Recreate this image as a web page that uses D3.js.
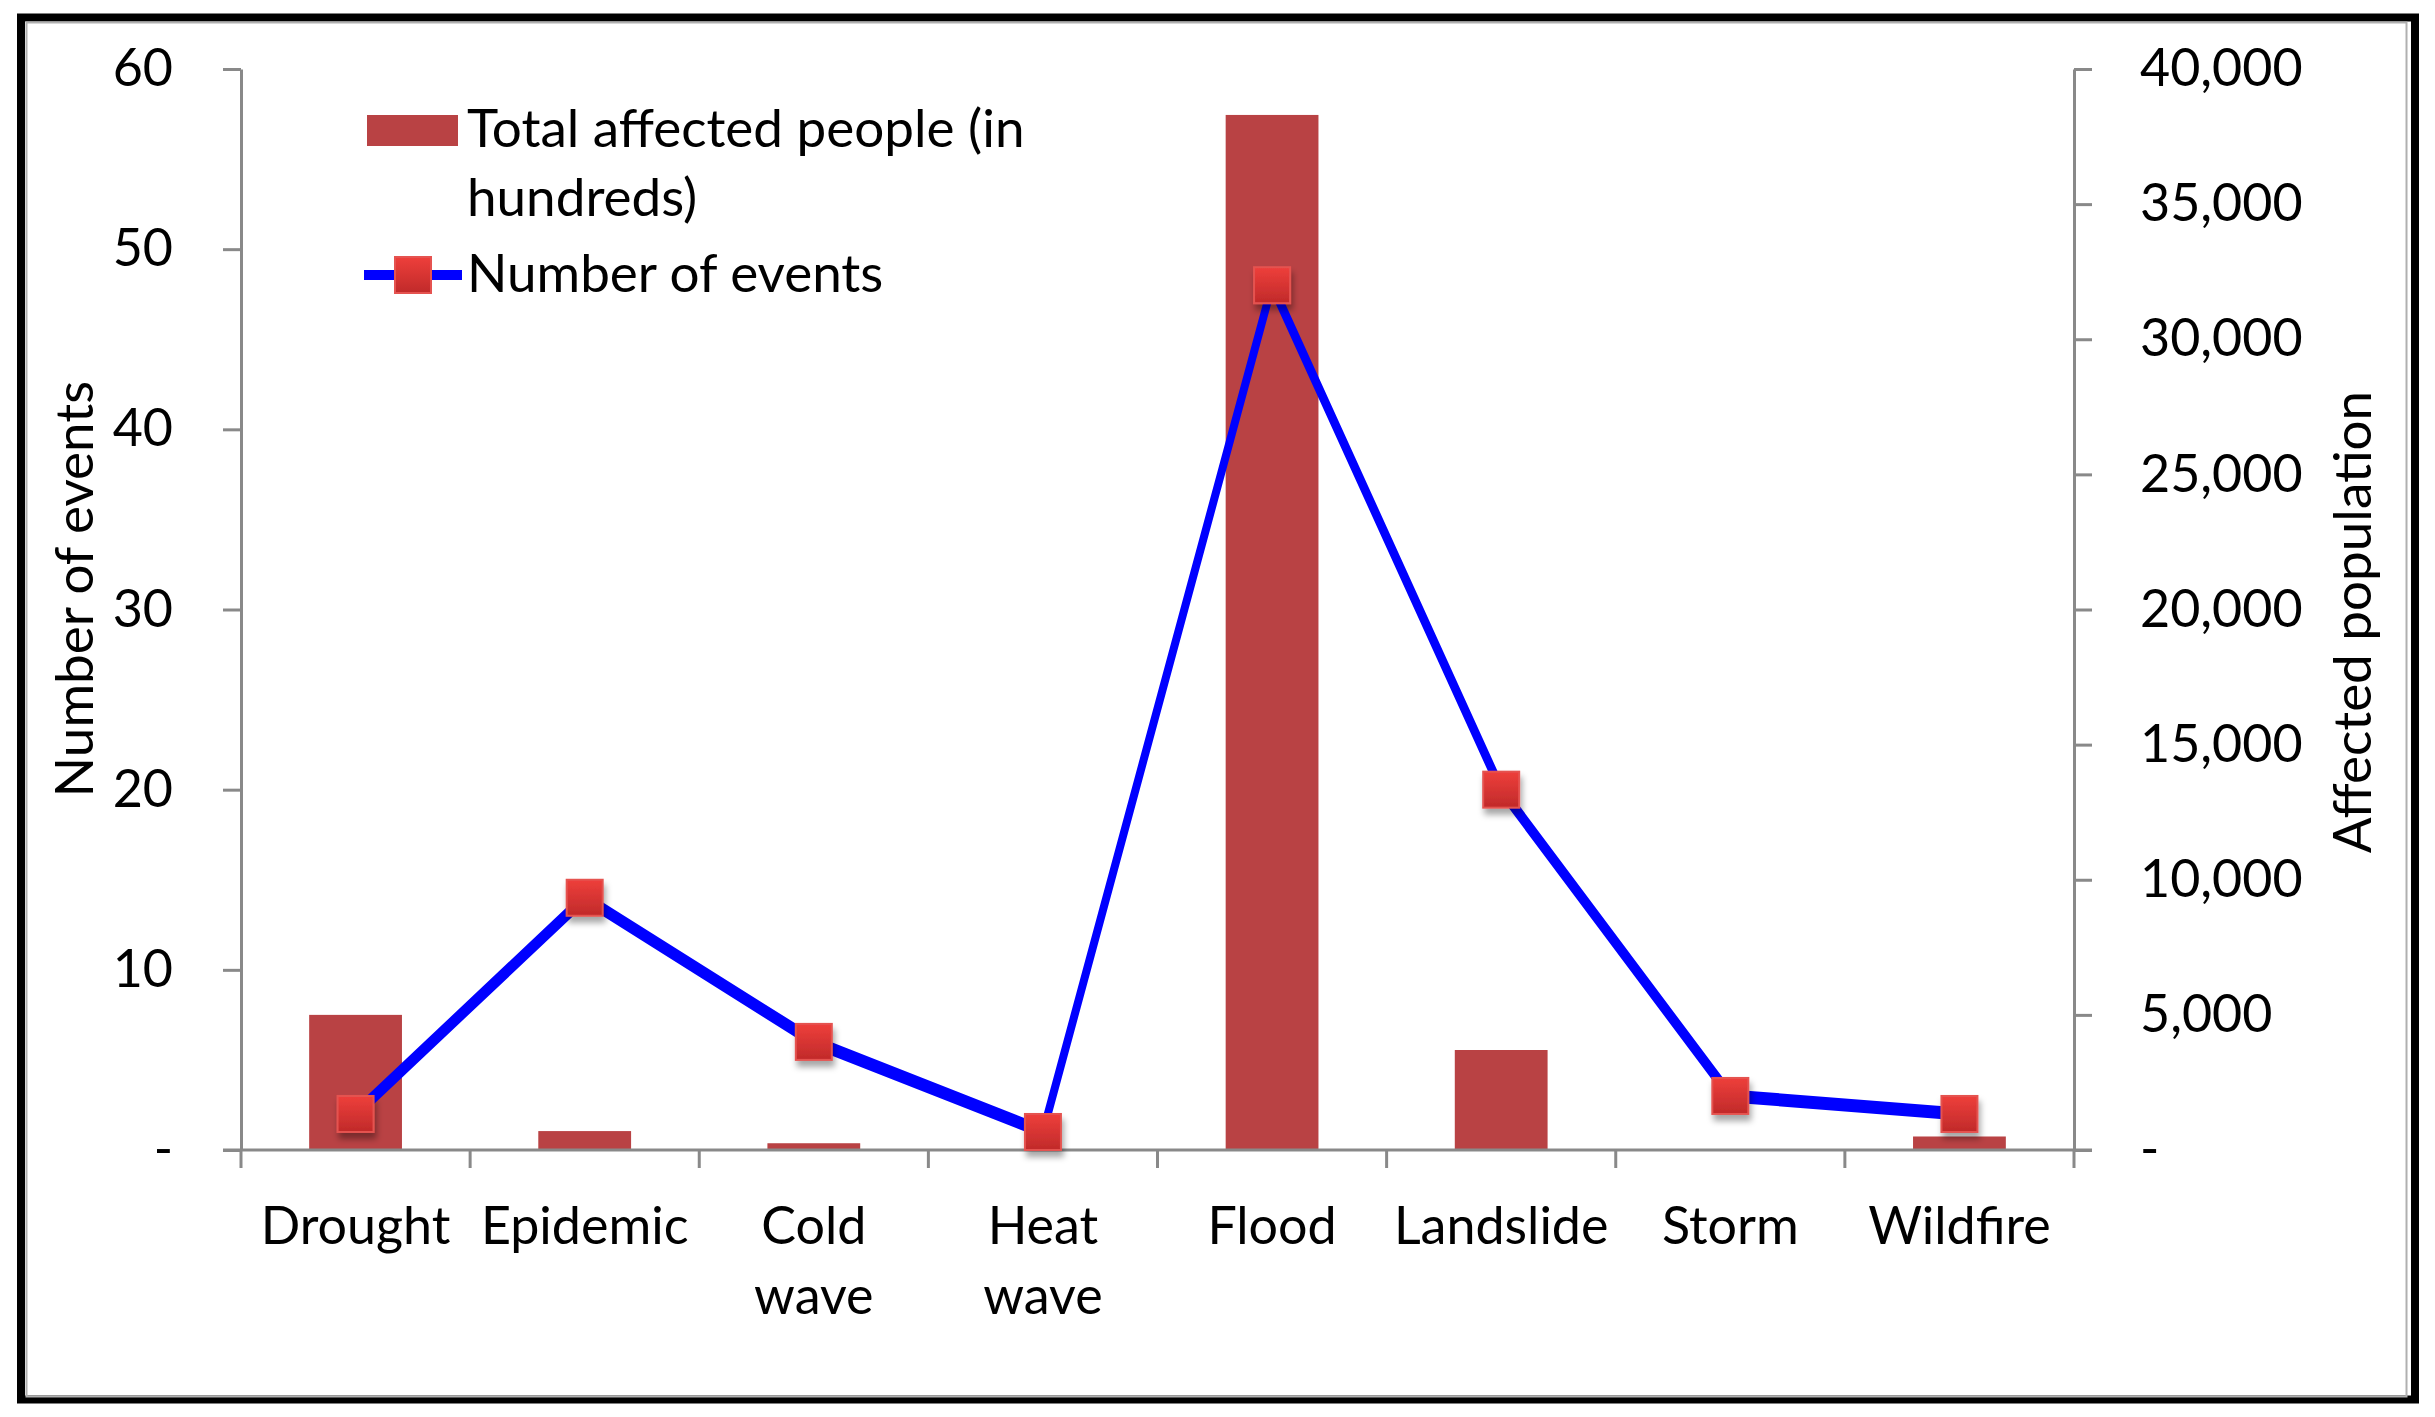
<!DOCTYPE html>
<html>
<head>
<meta charset="utf-8">
<script src="https://cdn.jsdelivr.net/npm/d3@7"></script>
<style>
  body { margin: 0; background: #fff; }
  svg { display: block; font-family: Lato, "Open Sans", sans-serif; }
</style>
</head>
<body>
<svg width="2435" height="1417"></svg>
<script>
const categories = ['Drought', 'Epidemic', 'Cold wave', 'Heat wave', 'Flood', 'Landslide', 'Storm', 'Wildfire'];
const affectedPeople = [5000, 700, 250, 0, 38300, 3700, 0, 500];
const numberOfEvents = [2, 14, 6, 1, 48, 20, 3, 2];
const leftTicks = [0, 10, 20, 30, 40, 50, 60];
const rightTicks = [0, 5000, 10000, 15000, 20000, 25000, 30000, 35000, 40000];
const legendLabels = ['Total affected people (in', 'hundreds)', 'Number of events'];

const svg = d3.select('svg');
const width = +svg.attr('width');
const height = +svg.attr('height');

const fontSize = 52;
const axisColor = '#898989';
const barColor = '#b94244';

const plotLeft = 241, plotRight = 2074, plotTop = 69, plotBottom = 1150;

const x = d3.scaleBand()
    .domain(categories)
    .range([plotLeft, plotRight])
    .padding(0);

const yLeft = d3.scaleLinear().domain([0, 60]).range([plotBottom, plotTop]);
const yRight = d3.scaleLinear().domain([0, 40000]).range([plotBottom, plotTop]);

const defs = svg.append('defs');

const grad = defs.append('linearGradient')
    .attr('id', 'markerFill')
    .attr('x1', 0).attr('y1', 0).attr('x2', 0).attr('y2', 1);
grad.append('stop').attr('offset', '0%').attr('stop-color', '#ee3f3b');
grad.append('stop').attr('offset', '100%').attr('stop-color', '#c02a2a');

const shadow = defs.append('filter')
    .attr('id', 'shadow')
    .attr('x', '-50%').attr('y', '-50%').attr('width', '200%').attr('height', '200%');
shadow.append('feDropShadow')
    .attr('dx', 2).attr('dy', 6)
    .attr('stdDeviation', 3)
    .attr('flood-color', '#000')
    .attr('flood-opacity', 0.35);

// frame
svg.append('rect')
    .attr('x', 21).attr('y', 17.5)
    .attr('width', 2394).attr('height', 1382)
    .attr('fill', '#fff')
    .attr('stroke', '#000')
    .attr('stroke-width', 8);

svg.append('rect')
    .attr('x', 26.5).attr('y', 22.5)
    .attr('width', 2380).attr('height', 1374)
    .attr('fill', 'none')
    .attr('stroke', '#b0b0b0')
    .attr('stroke-width', 2);

// bars
const barWidth = x.bandwidth() * 0.405;
svg.append('g')
  .selectAll('rect')
  .data(categories)
  .join('rect')
    .attr('x', d => x(d) + (x.bandwidth() - barWidth) / 2)
    .attr('y', (d, i) => yRight(affectedPeople[i]))
    .attr('width', barWidth)
    .attr('height', (d, i) => plotBottom - yRight(affectedPeople[i]))
    .attr('fill', barColor);

// axes
const leftAxis = d3.axisLeft(yLeft)
    .tickValues(leftTicks)
    .tickSizeInner(18)
    .tickSizeOuter(0)
    .tickPadding(50)
    .tickFormat(d => d === 0 ? '-' : d);

const rightAxis = d3.axisRight(yRight)
    .tickValues(rightTicks)
    .tickSizeInner(18)
    .tickSizeOuter(0)
    .tickPadding(48)
    .tickFormat(d => d === 0 ? '-' : d3.format(',')(d));

const styleAxis = g => {
  g.selectAll('path, line').attr('stroke', axisColor).attr('stroke-width', 3);
  g.selectAll('text')
    .attr('fill', '#000')
    .attr('font-size', fontSize)
    .attr('font-family', 'Lato, "Open Sans", sans-serif');
};

svg.append('g')
    .attr('transform', `translate(${plotLeft},0)`)
    .call(leftAxis)
    .call(styleAxis);

svg.append('g')
    .attr('transform', `translate(${plotRight},0)`)
    .call(rightAxis)
    .call(styleAxis);

// category axis: ticks sit on the band edges
const edges = categories.map(d => x(d)).concat([plotRight]);
const bottomG = svg.append('g');
bottomG.append('line')
    .attr('x1', plotLeft - 18).attr('x2', plotRight + 18)
    .attr('y1', plotBottom).attr('y2', plotBottom)
    .attr('stroke', axisColor).attr('stroke-width', 3);
bottomG.selectAll('line.tick')
  .data(edges)
  .join('line')
    .attr('class', 'tick')
    .attr('x1', d => d).attr('x2', d => d)
    .attr('y1', plotBottom).attr('y2', plotBottom + 18)
    .attr('stroke', axisColor).attr('stroke-width', 3);

const catLabels = bottomG.selectAll('text')
  .data(categories)
  .join('text')
    .attr('x', d => x(d) + x.bandwidth() / 2)
    .attr('y', 1244)
    .attr('text-anchor', 'middle')
    .attr('font-size', fontSize);
catLabels.selectAll('tspan')
  .data(d => d.split(' '))
  .join('tspan')
    .attr('x', function() { return this.parentNode.getAttribute('x'); })
    .attr('dy', (d, i) => i === 0 ? 0 : 70)
    .text(d => d);

// line series, drawn in a horizontally squeezed frame so the stroke
// is thinner on steep segments than on flat ones
const squeeze = 0.58;
const line = d3.line()
    .x((d, i) => (x(categories[i]) + x.bandwidth() / 2) / squeeze)
    .y(d => yLeft(d));

svg.append('g')
    .attr('transform', `scale(${squeeze},1)`)
  .append('path')
    .datum(numberOfEvents)
    .attr('d', line)
    .attr('fill', 'none')
    .attr('stroke', '#0000ff')
    .attr('stroke-width', 13)
    .attr('stroke-linejoin', 'round');

const markerSize = 36;
svg.append('g')
  .selectAll('rect')
  .data(numberOfEvents)
  .join('rect')
    .attr('x', (d, i) => x(categories[i]) + x.bandwidth() / 2 - markerSize / 2)
    .attr('y', d => yLeft(d) - markerSize / 2)
    .attr('width', markerSize)
    .attr('height', markerSize)
    .attr('fill', 'url(#markerFill)')
    .attr('stroke', '#e55350')
    .attr('stroke-width', 2)
    .attr('filter', 'url(#shadow)');

// axis titles
svg.append('text')
    .attr('transform', 'translate(93,589) rotate(-90)')
    .attr('text-anchor', 'middle')
    .attr('font-size', 53)
    .text('Number of events');

svg.append('text')
    .attr('transform', 'translate(2371,622) rotate(-90)')
    .attr('text-anchor', 'middle')
    .attr('font-size', 53)
    .text('Affected population');

// legend
const legend = svg.append('g');
legend.append('rect')
    .attr('x', 367).attr('y', 115)
    .attr('width', 91).attr('height', 31)
    .attr('fill', barColor);

legend.append('line')
    .attr('x1', 364).attr('x2', 462)
    .attr('y1', 275).attr('y2', 275)
    .attr('stroke', '#0000ff')
    .attr('stroke-width', 10);

legend.append('rect')
    .attr('x', 413 - markerSize / 2).attr('y', 275 - markerSize / 2)
    .attr('width', markerSize).attr('height', markerSize)
    .attr('fill', 'url(#markerFill)')
    .attr('stroke', '#e55350')
    .attr('stroke-width', 2);

legend.selectAll('text')
  .data(legendLabels)
  .join('text')
    .attr('x', 467)
    .attr('y', (d, i) => [147, 216, 292][i])
    .attr('font-size', 53)
    .text(d => d);
</script>
</body>
</html>
